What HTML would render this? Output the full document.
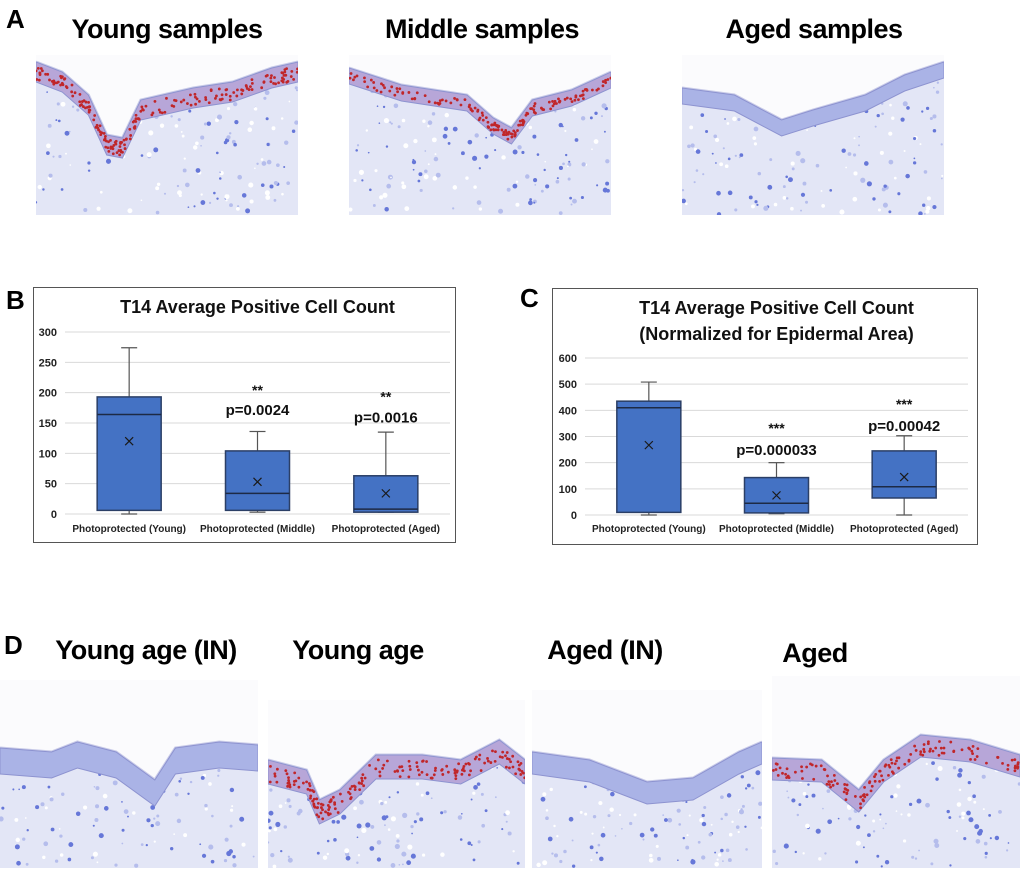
<!DOCTYPE html>
<html><head><meta charset="utf-8">
<style>
body{margin:0;width:1020px;height:873px;background:#fff;position:relative;overflow:hidden;font-family:"Liberation Sans",sans-serif}
.lbl{position:absolute;font-weight:bold;color:#000;font-family:"Liberation Sans",sans-serif}
.ttl{position:absolute;font-weight:bold;font-size:27px;color:#000;white-space:nowrap;transform:translateX(-50%);letter-spacing:-0.5px}
.frame{position:absolute;border:1.5px solid #555;background:#fff;box-sizing:border-box}
svg{position:absolute;left:0;top:0}
</style></head><body>
<div class="lbl" style="left:6px;top:4px;font-size:26px">A</div>
<div class="ttl" style="left:167px;top:14px">Young samples</div>
<div class="ttl" style="left:482px;top:14px">Middle samples</div>
<div class="ttl" style="left:814px;top:14px">Aged samples</div>
<div class="lbl" style="left:6px;top:285px;font-size:26px">B</div>
<div class="lbl" style="left:520px;top:283px;font-size:26px">C</div>
<div class="lbl" style="left:4px;top:630px;font-size:26px">D</div>
<div class="ttl" style="left:146px;top:635px">Young age (IN)</div>
<div class="ttl" style="left:358px;top:635px">Young age</div>
<div class="ttl" style="left:605px;top:635px">Aged (IN)</div>
<div class="ttl" style="left:815px;top:638px">Aged</div>

<div class="frame" style="left:33px;top:287px;width:423px;height:256px"></div>
<div class="frame" style="left:552px;top:288px;width:426px;height:257px"></div>

<svg id="tissue" width="1020" height="873"></svg>
<svg id="charts" width="1020" height="873"></svg>

<script>
// ---------- Chart data ----------
const categories = ["Photoprotected (Young)", "Photoprotected (Middle)", "Photoprotected (Aged)"];
const bTicks = [0, 50, 100, 150, 200, 250, 300];
const bMin = [0, 3, 3];
const bQ1 = [6, 6, 3];
const bMedian = [164, 34, 8];
const bQ3 = [193, 104, 63];
const bMax = [274, 136, 135];
const bMean = [120, 53, 34];
const bStars = ["", "**", "**"];
const bPvals = ["", "p=0.0024", "p=0.0016"];
const bStarY = [0, 206, 195];
const bPY = [0, 173, 161];

const cTicks = [0, 100, 200, 300, 400, 500, 600];
const cMin = [0, 5, 0];
const cQ1 = [10, 8, 65];
const cMedian = [410, 45, 108];
const cQ3 = [435, 143, 245];
const cMax = [508, 200, 303];
const cMean = [267, 75, 145];
const cStars = ["", "***", "***"];
const cPvals = ["", "p=0.000033", "p=0.00042"];
const cStarY = [0, 336, 428];
const cPY = [0, 252, 344];

const NS = "http://www.w3.org/2000/svg";
const charts = document.getElementById('charts');
function mk(tag, attrs, parent, txt){
  const e = document.createElementNS(NS, tag);
  for (const k in attrs) e.setAttribute(k, attrs[k]);
  if (txt !== undefined) e.textContent = txt;
  (parent || charts).appendChild(e);
  return e;
}

function drawChart(o){
  const g = mk('g', {});
  
  
  const ymax = o.ticks[o.ticks.length - 1];
  const y = v => o.y0 - (v / ymax) * (o.y0 - o.yTop);
  const step = (o.xr - o.xl) / categories.length;
  const x = i => o.xl + step * (i + 0.5);
  o.titles.forEach((t, k) => {
    const tt = mk('text', {x: (o.xl + o.xr) / 2, y: o.titleY + k * 26, 'text-anchor': 'middle', 'font-size': 18, 'font-weight': 'bold', fill: '#111'}, g, t);
    
    
  });
  o.ticks.forEach(t => {
    const gl = mk('line', {x1: o.xl, x2: o.xr, y1: y(t), y2: y(t), stroke: '#d9d9d9', 'stroke-width': 1}, g);
    
    
    const tl = mk('text', {x: o.xl - 8, y: y(t) + 4, 'text-anchor': 'end', 'font-size': 11, 'font-weight': 'bold', fill: '#222'}, g, String(t));
    
    
  });
  const bw = 64;
  categories.forEach((c, i) => {
    const cx = x(i);
    const wh = mk('line', {x1: cx, x2: cx, y1: y(o.max[i]), y2: y(o.min[i]), stroke: '#555', 'stroke-width': 1.2}, g);
    
    
    const cap = mk('line', {x1: cx - 8, x2: cx + 8, y1: y(o.max[i]), y2: y(o.max[i]), stroke: '#555', 'stroke-width': 1.2}, g);
    
    
    const cap2 = mk('line', {x1: cx - 8, x2: cx + 8, y1: y(o.min[i]), y2: y(o.min[i]), stroke: '#555', 'stroke-width': 1.2}, g);
    
    
    const box = mk('rect', {x: cx - bw / 2, y: y(o.q3[i]), width: bw, height: y(o.q1[i]) - y(o.q3[i]), fill: '#4472c4', stroke: '#2b3f66', 'stroke-width': 1.5}, g);
    
    
    const med = mk('line', {x1: cx - bw / 2, x2: cx + bw / 2, y1: y(o.med[i]), y2: y(o.med[i]), stroke: '#1d2a45', 'stroke-width': 1.5}, g);
    
    
    const my = y(o.mean[i]);
    const mx = mk('path', {d: `M${cx-4},${my-4}L${cx+4},${my+4}M${cx+4},${my-4}L${cx-4},${my+4}`, stroke: '#1a1a1a', 'stroke-width': 1.2}, g);
    
    
    const xl = mk('text', {x: cx, y: o.labelY, 'text-anchor': 'middle', 'font-size': 10, 'font-weight': 'bold', fill: '#222'}, g, c);
    
    
    if (o.stars[i]) {
      const st = mk('text', {x: cx, y: y(o.starY[i]) + 6, 'text-anchor': 'middle', 'font-size': 14, 'font-weight': 'bold', fill: '#111'}, g, o.stars[i]);
      
      
      const pv = mk('text', {x: cx, y: y(o.pY[i]) + 6, 'text-anchor': 'middle', 'font-size': 15, 'font-weight': 'bold', fill: '#111'}, g, o.pvals[i]);
      
      
    }
  });
}
drawChart({name: 'chart-b', xl: 65, xr: 450, y0: 514, yTop: 332, titleY: 313, labelY: 532, titles: ["T14 Average Positive Cell Count"],
  ticks: bTicks, min: bMin, q1: bQ1, med: bMedian, q3: bQ3, max: bMax, mean: bMean, stars: bStars, pvals: bPvals, starY: bStarY, pY: bPY});
drawChart({name: 'chart-c', xl: 585, xr: 968, y0: 515, yTop: 358, titleY: 314, labelY: 532, titles: ["T14 Average Positive Cell Count", "(Normalized for Epidermal Area)"],
  ticks: cTicks, min: cMin, q1: cQ1, med: cMedian, q3: cQ3, max: cMax, mean: cMean, stars: cStars, pvals: cPvals, starY: cStarY, pY: cPY});

// ---------- Histology approximations ----------
const T = document.getElementById('tissue');
let seed = 7;
function rnd(){ seed = (seed * 16807) % 2147483647; return seed / 2147483647; }
function tissue(name, x0, y0, w, h, pts, thick, red){
  const g = mk('g', {}, T);
  
  
  const cid = 'c' + name;
  const cp = mk('clipPath', {id: cid}, g);
  mk('rect', {x: x0, y: y0, width: w, height: h}, cp);
  const inner = mk('g', {'clip-path': `url(#${cid})`}, g);
  mk('rect', {x: x0, y: y0, width: w, height: h, fill: '#fbfbfd'}, inner);
  const P = pts.map(p => [x0 + p[0] * w, p[1]]);
  let top = 'M' + P.map(p => p.join(',')).join(' L');
  let bot = P.slice().reverse().map(p => (p[0]) + ',' + (p[1] + thick)).join(' L');
  mk('path', {d: top + ` L${x0+w},${y0+h} L${x0},${y0+h} Z`, fill: '#e3e6f6'}, inner);
  for (let i = 0; i < 200; i++) {
    const px = x0 + rnd() * w, py = y0 + rnd() * h;
    const r = rnd();
    mk('circle', {cx: px, cy: py, r: 0.8 + rnd() * 1.8, fill: r < 0.35 ? '#6677d8' : (r < 0.7 ? '#b5bdec' : '#ffffff')}, inner);
  }
  mk('path', {d: top + ` L${x0+w},${y0} L${x0},${y0} Z`, fill: '#fbfbfd'}, inner);
  mk('path', {d: top, fill: 'none', stroke: '#c9cbe8', 'stroke-width': 3}, inner);
  mk('path', {d: top + ' L' + bot + ' Z', fill: red ? '#b7a6d8' : '#aab3e6', stroke: '#8d93d0', 'stroke-width': 1}, inner);
  if (red) {
    for (let i = 0; i < P.length - 1; i++) {
      for (let k = 0; k < 22; k++) {
        const t = rnd();
        const px = P[i][0] + (P[i+1][0] - P[i][0]) * t;
        const py = P[i][1] + (P[i+1][1] - P[i][1]) * t + 4 + rnd() * (thick - 6);
        mk('circle', {cx: px, cy: py, r: 1.4, fill: '#c0262a'}, inner);
      }
    }
  }
}
tissue('young-sample-image', 36, 55, 262, 160, [[0,62],[0.1,72],[0.2,95],[0.27,135],[0.33,138],[0.4,100],[0.6,88],[0.75,82],[0.9,68],[1,62]], 20, true);
tissue('middle-sample-image', 349, 55, 262, 160, [[0,68],[0.2,85],[0.45,95],[0.55,118],[0.62,128],[0.7,100],[0.85,90],[1,72]], 16, true);
tissue('aged-sample-image', 682, 55, 262, 160, [[0,88],[0.2,95],[0.38,120],[0.5,110],[0.7,95],[0.85,75],[1,62]], 16, false);
tissue('young-age-in-image', 0, 680, 258, 188, [[0,748],[0.2,752],[0.3,742],[0.45,752],[0.6,780],[0.68,748],[0.85,742],[1,745]], 26, false);
tissue('young-age-image', 268, 700, 257, 168, [[0,760],[0.15,770],[0.2,800],[0.28,790],[0.42,755],[0.6,755],[0.75,760],[0.9,740],[1,760]], 24, true);
tissue('aged-in-image', 532, 690, 230, 178, [[0,752],[0.25,760],[0.5,782],[0.7,778],[0.9,752],[1,742]], 22, false);
tissue('aged-image', 772, 676, 248, 192, [[0,758],[0.2,760],[0.35,790],[0.45,760],[0.6,735],[0.8,740],[1,755]], 22, true);
</script>
</body></html>
